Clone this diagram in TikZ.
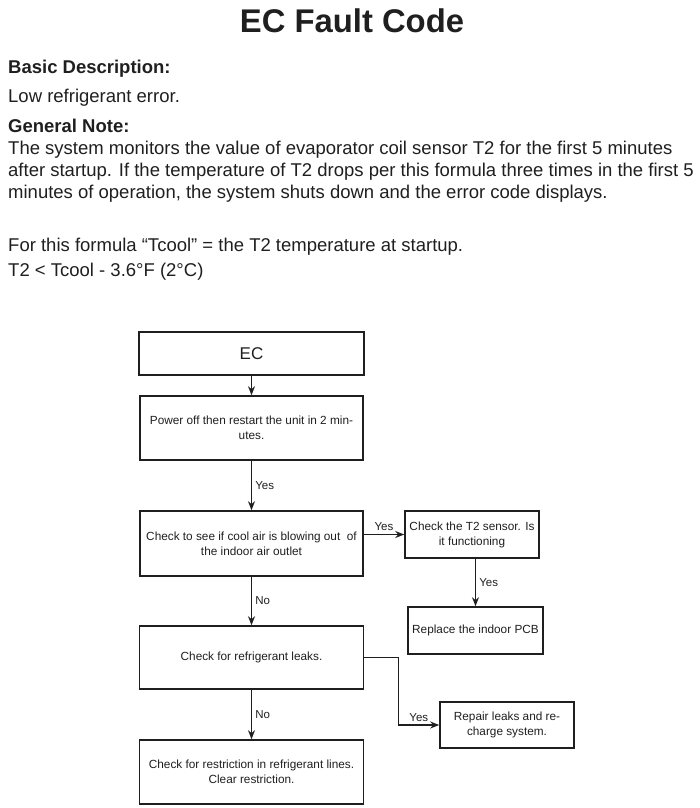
\documentclass[tikz,border=0pt]{standalone}
\usepackage{fontspec}
\setmainfont{Liberation Sans}
\usetikzlibrary{arrows.meta}

\tikzset{
  box/.style={draw,line width=1.6pt,align=center,font=\fontsize{11.8}{15}\selectfont,inner sep=2pt},
  flow/.style={-{Stealth[length=9pt,width=7pt]},line width=1.6pt},
  lbl/.style={font=\fontsize{11.5}{13}\selectfont,inner sep=3pt},
  bodytext/.style={anchor=base west,font=\fontsize{18.5}{21}\selectfont,inner sep=0pt},
  headtext/.style={anchor=base west,font=\fontsize{18.5}{21}\selectfont\bfseries,inner sep=0pt}
}

\begin{document}
\begin{tikzpicture}[x=1pt,y=-1pt,color=black!88]
        \useasboundingbox (0,0) rectangle (700,808);

        % Header text
        \node[font=\fontsize{32.8}{36}\selectfont\bfseries] (title) at (352,21) {EC Fault Code};
        \node[headtext] (basic) at (8,74) {Basic Description:};
        \node[bodytext] (low) at (8,102) {Low refrigerant error.};
        \node[headtext] (general) at (8,132) {General Note:};
        \node[bodytext] (noteA) at (8,154) {The system monitors the value of evaporator coil sensor T2 for the first 5 minutes};
        \node[bodytext] (noteB) at (8,176) {after startup. If the temperature of T2 drops per this formula three times in the first 5};
        \node[bodytext] (noteC) at (8,198) {minutes of operation, the system shuts down and the error code displays.};
        \node[bodytext] (formula) at (8,251) {For this formula “Tcool” = the T2 temperature at startup.};
        \node[bodytext] (rule) at (8,276) {T2 < Tcool - 3.6°F (2°C)};

        % Flow chart boxes
        \node[box,minimum width=225pt,minimum height=43pt,font=\fontsize{17}{20}\selectfont] (ec) at (251.5,353.5) {EC};
        \node[box,minimum width=223pt,minimum height=64pt] (power) at (251.5,428) {Power off then restart the unit in 2 min-\\utes.};
        \node[box,minimum width=223pt,minimum height=65pt] (cool) at (251.5,543.5) {Check to see if cool air is blowing out\ \ of\\the indoor air outlet};
        \node[box,minimum width=134pt,minimum height=47pt] (sensor) at (472,534.5) {Check the T2 sensor. Is\\it functioning};
        \node[box,minimum width=135pt,minimum height=47pt] (pcb) at (475.5,630.5) {Replace the indoor PCB};
        \node[box,minimum width=224pt,minimum height=63pt] (leaks) at (251.5,657.5) {Check for refrigerant leaks.};
        \node[box,minimum width=134pt,minimum height=46pt] (repair) at (507,725) {Repair leaks and re-\\charge system.};
        \node[box,minimum width=224pt,minimum height=64pt] (restrict) at (251.5,772) {Check for restriction in refrigerant lines.\\Clear restriction.};

        % Connectors
        \draw[flow] (ec) -- (power);
        \draw[flow] (power) -- node[lbl,right] {Yes} (cool);
        \draw[flow] (cool.east |- sensor.west) -- node[lbl,above] {Yes} (sensor.west);
        \draw[flow] (sensor.south -| pcb.north) -- node[lbl,right] {Yes} (pcb);
        \draw[flow] (cool) -- node[lbl,right] {No} (leaks);
        \draw[flow] (leaks) -- node[lbl,right] {No} (restrict);
        \draw[flow] (leaks.east) -- ++(34,0) |- node[lbl,above,pos=0.75] {Yes} (repair.west);

\end{tikzpicture}
\end{document}
